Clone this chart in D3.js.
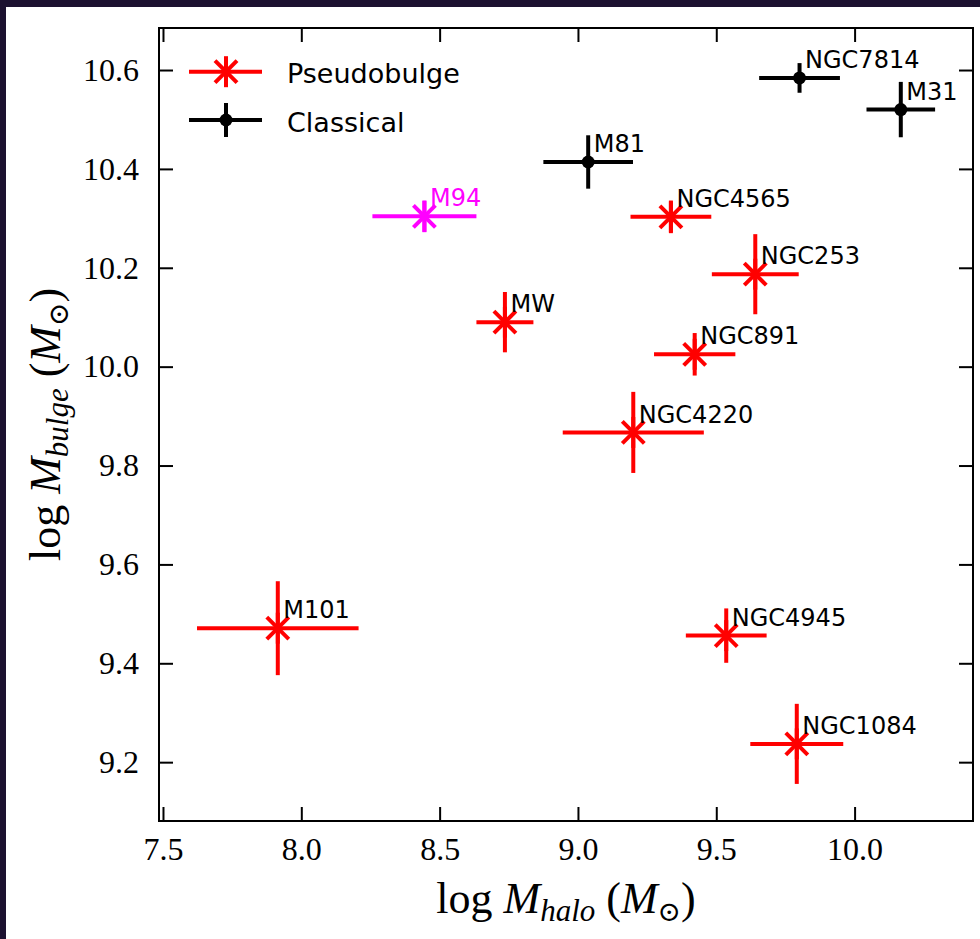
<!DOCTYPE html>
<html>
<head>
<meta charset="utf-8">
<script src="https://cdnjs.cloudflare.com/ajax/libs/d3/7.8.5/d3.min.js"></script>
<style>
	body { margin: 0; background: #1c1130; }
	#graphicContainer { width: 980px; height: 939px; }
</style>
</head>
<body>
<div id="graphicContainer"></div>
<script>

// galaxy sample

var names = ["M101", "M94", "MW", "M81", "NGC4565", "NGC253", "NGC891", "NGC4220", "NGC4945", "NGC1084", "NGC7814", "M31"];

var bulgeType = ["Pseudobulge", "Pseudobulge", "Pseudobulge", "Classical", "Pseudobulge", "Pseudobulge", "Pseudobulge", "Pseudobulge", "Pseudobulge", "Pseudobulge", "Classical", "Classical"];

var logMhalo = [7.915, 8.445, 8.736, 9.037, 9.336, 9.641, 9.422, 9.200, 9.536, 9.791, 9.801, 10.167];
var errMhalo = [0.292, 0.188, 0.103, 0.162, 0.146, 0.157, 0.147, 0.255, 0.146, 0.168, 0.146, 0.124];

var logMbulge = [9.471, 10.304, 10.090, 10.414, 10.303, 10.187, 10.025, 9.867, 9.456, 9.237, 10.584, 10.520];
var errMbulge = [0.095, 0.032, 0.061, 0.054, 0.033, 0.081, 0.043, 0.082, 0.055, 0.081, 0.030, 0.056];

var xTicks = [7.5, 8.0, 8.5, 9.0, 9.5, 10.0];
var yTicks = [9.2, 9.4, 9.6, 9.8, 10.0, 10.2, 10.4, 10.6];

var legendKeys = ["Pseudobulge", "Classical"];

var highlighted = "M94";

function draw_chart() {

		var data = names.map((d, i) => ({
			name: d,
			type: bulgeType[i],
			x: logMhalo[i],
			xerr: errMhalo[i],
			y: logMbulge[i],
			yerr: errMbulge[i]
		}));

		var width = 980, height = 939;
		var margin = {top: 28, right: 7, bottom: 118, left: 159};

		d3.select("#graphicContainer svg").remove();

		var svg = d3.select("#graphicContainer").append("svg")
			.attr("width", width)
			.attr("height", height);

		// dark frame round a white canvas

		svg.append("rect")
			.attr("width", width)
			.attr("height", height)
			.attr("fill", "#1c1130");

		svg.append("rect")
			.attr("x", 6)
			.attr("y", 7)
			.attr("width", width - 6)
			.attr("height", height - 7)
			.attr("fill", "#ffffff");

		var x = d3.scaleLinear()
			.domain([7.4856, 10.428])
			.range([margin.left, width - margin.right]);

		var y = d3.scaleLinear()
			.domain([9.081, 10.685])
			.range([height - margin.bottom, margin.top]);

		var colour = d => d.name == highlighted ? "#ff00ff" : (d.type == "Classical" ? "#000000" : "#ff0000");

		var serif = "'Liberation Serif', 'DejaVu Serif', serif";
		var sans = "'DejaVu Sans', sans-serif";

		// axes, ticks pointing in

		var styleAxis = g => g
			.attr("font-family", null)
			.attr("font-size", null)
			.call(g => g.select(".domain").remove())
			.call(g => g.selectAll(".tick line").attr("stroke", "#000").attr("stroke-width", 2))
			.call(g => g.selectAll(".tick text")
				.style("font-family", serif)
				.style("font-size", "32px")
				.attr("fill", "#000"));

		svg.append("g")
			.attr("transform", `translate(0,${height - margin.bottom})`)
			.call(d3.axisBottom(x).tickValues(xTicks).tickFormat(d3.format(".1f")).tickSizeInner(-14).tickSizeOuter(0).tickPadding(16))
			.call(styleAxis);

		svg.append("g")
			.attr("transform", `translate(0,${margin.top})`)
			.call(d3.axisTop(x).tickValues(xTicks).tickFormat("").tickSizeInner(-14).tickSizeOuter(0))
			.call(styleAxis);

		svg.append("g")
			.attr("transform", `translate(${margin.left},0)`)
			.call(d3.axisLeft(y).tickValues(yTicks).tickFormat(d3.format(".1f")).tickSizeInner(-14).tickSizeOuter(0).tickPadding(20))
			.call(styleAxis);

		svg.append("g")
			.attr("transform", `translate(${width - margin.right},0)`)
			.call(d3.axisRight(y).tickValues(yTicks).tickFormat("").tickSizeInner(-14).tickSizeOuter(0))
			.call(styleAxis);

		// frame

		svg.append("rect")
			.attr("x", margin.left)
			.attr("y", margin.top)
			.attr("width", width - margin.right - margin.left)
			.attr("height", height - margin.bottom - margin.top)
			.attr("fill", "none")
			.attr("stroke", "#000")
			.attr("stroke-width", 2);

		// marker helpers

		var starArms = [[0, -15.5], [11, -11], [11, 11]];

		var drawStar = (g, col) => {
			starArms.forEach(a => {
				g.append("line")
					.attr("x1", -a[0]).attr("y1", -a[1])
					.attr("x2", a[0]).attr("y2", a[1])
					.attr("stroke", col)
					.attr("stroke-width", 4);
			});
		};

		var drawDot = (g, col) => {
			g.append("circle")
				.attr("r", 6.5)
				.attr("fill", col);
		};

		// error bars and markers

		var points = svg.append("g")
			.selectAll("g")
			.data(data)
			.enter()
			.append("g");

		points.append("line")
			.attr("x1", d => x(d.x - d.xerr))
			.attr("x2", d => x(d.x + d.xerr))
			.attr("y1", d => y(d.y))
			.attr("y2", d => y(d.y))
			.attr("stroke", colour)
			.attr("stroke-width", 4);

		points.append("line")
			.attr("x1", d => x(d.x))
			.attr("x2", d => x(d.x))
			.attr("y1", d => y(d.y - d.yerr))
			.attr("y2", d => y(d.y + d.yerr))
			.attr("stroke", colour)
			.attr("stroke-width", 4);

		points.each(function(d) {
			var m = d3.select(this).append("g")
				.attr("transform", `translate(${x(d.x)},${y(d.y)})`);
			if (d.type == "Classical") drawDot(m, colour(d));
			else drawStar(m, colour(d));
		});

		// name labels, nudged up and right of each point

		points.append("text")
			.attr("x", d => x(d.x + 0.02))
			.attr("y", d => y(d.y + 0.02))
			.attr("font-family", sans)
			.attr("font-size", 24)
			.attr("fill", d => d.name == highlighted ? "#ff00ff" : "#000")
			.text(d => d.name);

		// legend

		var legend = svg.append("g")
			.selectAll("g")
			.data(legendKeys)
			.enter()
			.append("g")
			.attr("transform", (d, i) => `translate(226,${71.7 + i * 48.3})`);

		legend.append("line")
			.attr("x1", -37).attr("x2", 36)
			.attr("stroke", d => d == "Classical" ? "#000" : "#ff0000")
			.attr("stroke-width", 4);

		legend.each(function(d) {
			var g = d3.select(this);
			if (d == "Classical") {
				g.append("line")
					.attr("y1", -17).attr("y2", 17)
					.attr("stroke", "#000")
					.attr("stroke-width", 4);
				drawDot(g, "#000");
			} else {
				drawStar(g, "#ff0000");
			}
		});

		legend.append("text")
			.attr("x", 61)
			.attr("y", 11.5)
			.attr("font-family", sans)
			.attr("font-size", 27)
			.attr("fill", "#000")
			.text(d => d);

		// axis titles

		var xLabel = svg.append("text")
			.attr("x", (margin.left + width - margin.right) / 2)
			.attr("y", 913)
			.attr("text-anchor", "middle")
			.attr("font-family", serif)
			.attr("font-size", 44)
			.attr("fill", "#000");

		var yLabel = svg.append("text")
			.attr("transform", `translate(60,${(margin.top + height - margin.bottom) / 2}) rotate(-90)`)
			.attr("text-anchor", "middle")
			.attr("font-family", serif)
			.attr("font-size", 44)
			.attr("fill", "#000");

		var fillLabel = (t, sub) => {
			t.append("tspan").text("log ");
			t.append("tspan").attr("font-style", "italic").text("M");
			t.append("tspan").attr("font-style", "italic").attr("font-size", 31).attr("dy", 8).text(sub);
			t.append("tspan").attr("dy", -8).text(" (");
			t.append("tspan").attr("font-style", "italic").text("M");
			t.append("tspan").attr("font-size", 28).attr("dy", 8).text("\u2299");
			t.append("tspan").attr("dy", -8).text(")");
		};

		fillLabel(xLabel, "halo");
		fillLabel(yLabel, "bulge");

}

draw_chart();

</script>
</body>
</html>
